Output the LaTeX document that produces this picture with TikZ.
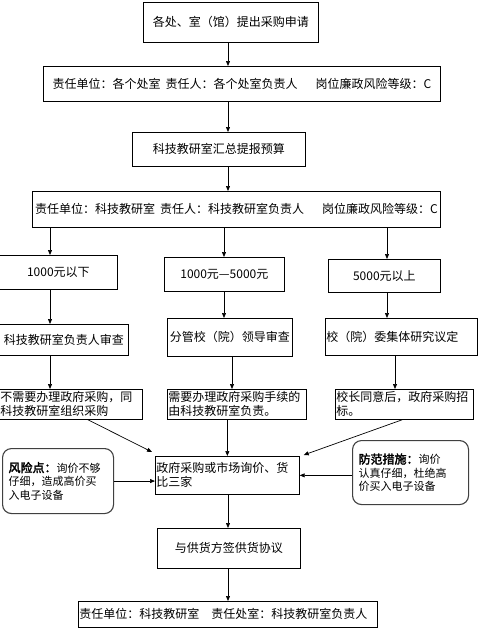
\documentclass[tikz,border=0pt]{standalone}
\usepackage{fontspec}
\newfontfamily\cjk[AutoFakeBold=2.5]{Noto Sans CJK SC}
\usetikzlibrary{arrows.meta,positioning,calc}

\begin{document}
\begin{tikzpicture}[x=1pt, y=-1pt,
    kuang/.style={draw, line width=0.7pt, anchor=north west, inner sep=1pt,
        font=\cjk\fontsize{12}{14}\selectfont},
    zuo/.style={kuang, align=left},
    yuan/.style={draw=black!75, line width=1.1pt, rounded corners=9pt,
        anchor=north west, inner xsep=6pt, align=left,
        font=\cjk\fontsize{11}{13.5}\selectfont},
    jian/.style={-{Triangle[length=5pt,width=4pt]}, line width=0.7pt}]
    \useasboundingbox (0,0) rectangle (490,638);

    % 各列箭头的横坐标
    \coordinate (c0) at (228,0);
    \coordinate (c1) at (50,0);
    \coordinate (c2) at (224,0);
    \coordinate (c3) at (387,0);
    \coordinate (d2) at (232,0);
    \coordinate (d3) at (395,0);

    % 上部流程
    \node[kuang, minimum width=175pt, minimum height=40pt] (shenqing) at (143,2) {各处、室（馆）提出采购申请};
    \node[kuang, minimum width=397pt, minimum height=35pt] (zeren1) at (43,66)
        {责任单位：各个处室\hspace{5pt}责任人：各个处室负责人\hspace{18pt}岗位廉政风险等级：C};
    \node[kuang, minimum width=173pt, minimum height=34pt] (huizong) at (132,132) {科技教研室汇总提报预算};
    \node[kuang, minimum width=408pt, minimum height=36pt] (zeren2) at (32,191)
        {责任单位：科技教研室\hspace{5pt}责任人：科技教研室负责人\hspace{18pt}岗位廉政风险等级：C};

    % 三个金额分支
    \node[kuang, minimum width=118pt, minimum height=34pt] (xia) at (-1,255) {1000元以下};
    \node[kuang, minimum width=120pt, minimum height=34pt] (zhong) at (164,257) {1000元—5000元};
    \node[kuang, minimum width=112pt, minimum height=33pt] (shang) at (328,259) {5000元以上};

    \node[kuang, minimum width=129pt, minimum height=31pt] (shencha1) at (-1,324) {科技教研室负责人审查};
    \node[kuang, minimum width=125pt, minimum height=38pt] (shencha2) at (167,318) {分管校（院）领导审查};
    \node[zuo, text width=150pt, minimum height=37pt] (shencha3) at (325,318) {校（院）委集体研究议定};

    \node[zuo, text width=141pt, minimum height=30pt] (buxu) at (-1,389) {不需要办理政府采购，同\\科技教研室组织采购};
    \node[zuo, text width=137pt, minimum height=30pt] (xuyao) at (167,389) {需要办理政府采购手续的\\由科技教研室负责。};
    \node[zuo, text width=136pt, minimum height=30pt] (xiaozhang) at (335,389) {校长同意后，政府采购招\\标。};

    % 汇合
    \node[zuo, text width=142pt, minimum height=38pt] (caigou) at (155,456) {政府采购或市场询价、货\\比三家};
    \node[yuan, text width=99pt, minimum height=65pt] (fengxian) at (2,448)
        {{\fontsize{12}{13.5}\selectfont\bfseries 风险点：}询价不够\\仔细，造成高价买\\入电子设备};
    \node[yuan, text width=104pt, minimum height=64pt] (fangfan) at (352,440)
        {{\fontsize{12}{13.5}\selectfont\bfseries 防范措施：}询价\\认真仔细，杜绝高\\价买入电子设备};

    \node[kuang, minimum width=143pt, minimum height=40pt] (xieyi) at (157,528) {与供货方签供货协议};
    \node[zuo, text width=297pt, minimum height=26pt] (zeren3) at (78,601)
        {责任单位：科技教研室\hspace{12pt}责任处室：科技教研室负责人};

    % 连线
    \foreach \a/\b in {shenqing/zeren1, zeren1/huizong, huizong/zeren2, caigou/xieyi, xieyi/zeren3}
        \draw[jian] (\a.south -| c0) -- (\b.north -| c0);
    \foreach \c/\a/\b in {c1/xia/shencha1, c2/zhong/shencha2, c3/shang/shencha3} {
        \draw[jian] (zeren2.south -| \c) -- (\a.north -| \c);
        \draw[jian] (\a.south -| \c) -- (\b.north -| \c);
    }
    \foreach \c/\a/\b in {c1/shencha1/buxu, d2/shencha2/xuyao, d3/shencha3/xiaozhang}
        \draw[jian] (\a.south -| \c) -- (\b.north -| \c);

    \draw[jian] ([xshift=17pt]buxu.south) -- ([xshift=-3pt,yshift=4pt]caigou.north west);
    \draw[jian] (xuyao.south -| caigou.north) -- (caigou.north);
    \draw[jian] ([xshift=-2pt]xiaozhang.south) -- ([xshift=4pt,yshift=1pt]caigou.north east);
    \draw[jian] (fengxian.east) -- (fengxian.east -| caigou.west);
    \draw[jian] (caigou.east -| fangfan.west) -- (caigou.east);
\end{tikzpicture}
\end{document}
